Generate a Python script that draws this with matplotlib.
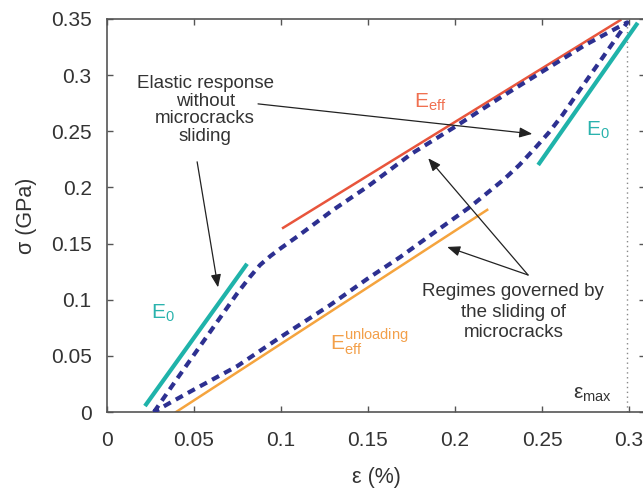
import matplotlib
matplotlib.use("Agg")
import matplotlib.pyplot as plt

plt.rcParams["font.family"] = ["Liberation Sans", "DejaVu Sans"]
plt.rcParams["mathtext.fontset"] = "custom"
plt.rcParams["mathtext.rm"] = "Liberation Sans"
plt.rcParams["mathtext.it"] = "Liberation Sans:italic"

# ---- data ----
# hysteresis loop (dashed): loading branch, then unloading branch
load_eps = [0.027, 0.040, 0.060, 0.075, 0.082, 0.088, 0.094, 0.100, 0.110,
            0.130, 0.150, 0.175, 0.200, 0.225, 0.250, 0.275, 0.299]
load_sig = [0.000, 0.029, 0.073, 0.106, 0.120, 0.131, 0.139, 0.146, 0.157,
            0.180, 0.201, 0.230, 0.254, 0.279, 0.303, 0.327, 0.347]
unload_eps = [0.299, 0.285, 0.270, 0.262, 0.254, 0.246, 0.237, 0.228, 0.2087,
              0.190, 0.1685, 0.150, 0.128, 0.100, 0.075, 0.050, 0.036, 0.027]
unload_sig = [0.347, 0.316, 0.283, 0.265, 0.249, 0.235, 0.220, 0.207, 0.1827,
              0.162, 0.138, 0.119, 0.095, 0.067, 0.041, 0.020, 0.008, 0.000]

# tangent moduli
e0_low_eps = [0.0218, 0.0805]
e0_low_sig = [0.0053, 0.132]
e0_up_eps = [0.2478, 0.305]
e0_up_sig = [0.220, 0.3466]
eff_eps = [0.1012, 0.295]
eff_sig = [0.164, 0.349]
unl_eps = [0.0397, 0.2185]
unl_sig = [0.000, 0.180]

eps_max = 0.299

x_ticks = [0, 0.05, 0.1, 0.15, 0.2, 0.25, 0.3]
x_labels = ["0", "0.05", "0.1", "0.15", "0.2", "0.25", "0.3"]
y_ticks = [0, 0.05, 0.1, 0.15, 0.2, 0.25, 0.3, 0.35]
y_labels = ["0", "0.05", "0.1", "0.15", "0.2", "0.25", "0.3", "0.35"]

NAVY = "#2d3091"
TEAL = "#1fb3aa"
RED = "#e8553c"
ORANGE = "#f5a43e"

fig = plt.figure(figsize=(6.43, 4.88), dpi=100)
ax = fig.add_axes([107 / 643, 1 - 412 / 488, (645 - 107) / 643, (412 - 19) / 488])

ax.plot(e0_low_eps, e0_low_sig, color=TEAL, lw=3, solid_capstyle="butt", zorder=2)
ax.plot(e0_up_eps, e0_up_sig, color=TEAL, lw=3, solid_capstyle="butt", zorder=2)
ax.plot(eff_eps, eff_sig, color=RED, lw=1.8, zorder=2)
ax.plot(unl_eps, unl_sig, color=ORANGE, lw=1.8, zorder=2)

ax.plot(load_eps + unload_eps[1:], load_sig + unload_sig[1:], color=NAVY, lw=3,
        dashes=(1.9, 1.4), zorder=3)

ax.axvline(eps_max, color="#888888", lw=1, linestyle=(0, (1, 2.5)), zorder=1)

# labels of the moduli
ax.text(0.032, 0.088, r"$\mathrm{E}_\mathrm{0}$", color="#2ab3ad", fontsize=15,
        ha="center", va="center")
ax.text(0.282, 0.251, r"$\mathrm{E}_\mathrm{0}$", color="#2ab3ad", fontsize=15,
        ha="center", va="center")
ax.text(0.186, 0.276, r"$\mathrm{E}_\mathrm{eff}$", color="#f07050", fontsize=15,
        ha="center", va="center")
ax.text(0.151, 0.062, r"$\mathrm{E}_\mathrm{eff}^\mathrm{unloading}$", color="#f3a04a",
        fontsize=15, ha="center", va="center")
ax.text(0.279, 0.016, r"$\mathrm{\varepsilon}_\mathrm{max}$", color="#333333",
        fontsize=15, ha="center", va="center")

# explanatory notes with arrows
ax.text(0.0564, 0.269, "Elastic response\nwithout\nmicrocracks\nsliding",
        fontsize=13.5, color="#333333", ha="center", va="center", linespacing=1.05)
ax.text(0.2335, 0.089, "Regimes governed by\nthe sliding of\nmicrocracks",
        fontsize=13.5, color="#333333", ha="center", va="center", linespacing=1.25)

arrow = dict(arrowstyle="-|>,head_length=0.55,head_width=0.22", color="#222222",
             lw=0.9, mutation_scale=14, shrinkA=0, shrinkB=0)
ax.annotate("", xy=(0.2444, 0.2477), xytext=(0.0868, 0.2744), arrowprops=arrow)
ax.annotate("", xy=(0.0638, 0.111), xytext=(0.0518, 0.2228), arrowprops=arrow)
ax.annotate("", xy=(0.1846, 0.226), xytext=(0.242, 0.122), arrowprops=arrow)
ax.annotate("", xy=(0.1955, 0.147), xytext=(0.242, 0.122), arrowprops=arrow)

ax.set_xlim(0, (645 - 107) / 87 * 0.05)
ax.set_ylim(0, 0.35)
ax.set_xticks(x_ticks)
ax.set_xticklabels(x_labels)
ax.set_yticks(y_ticks)
ax.set_yticklabels(y_labels)
ax.tick_params(direction="in", length=4, width=1, color="#555555",
               labelsize=15, labelcolor="#333333", top=True, right=True)
ax.tick_params(axis="x", pad=14)
ax.tick_params(axis="y", pad=11)
for s in ax.spines.values():
    s.set_color("#555555")
    s.set_linewidth(1.2)

ax.set_xlabel("ε (%)", fontsize=15.5, color="#333333", labelpad=12)
ax.set_ylabel("σ (GPa)", fontsize=15.5, color="#333333", labelpad=10)

fig.savefig("out.png", dpi=100)
